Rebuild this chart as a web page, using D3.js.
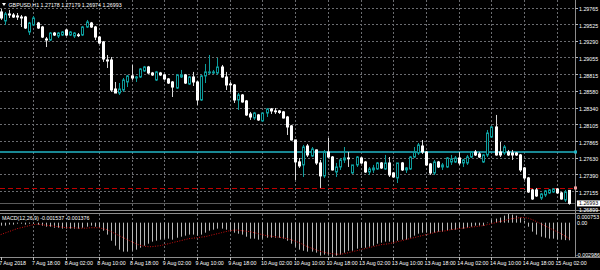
<!DOCTYPE html>
<html>
<head>
<meta charset="utf-8">
<script src="https://cdnjs.cloudflare.com/ajax/libs/d3/7.8.5/d3.min.js"></script>
<style>
  html, body { margin: 0; padding: 0; background: #000; }
  #svg-canvas { width: 600px; height: 270px; }
  text { font-family: "Liberation Sans", Arial, sans-serif; fill: #fff; }
</style>
</head>
<body>
<div id="svg-canvas"></div>
<script>
// GBPUSD H1, 7 Aug 10:00 .. 15 Aug 05:00 (140 bars)
var opens = [
  1.29716, 1.29588, 1.29687, 1.29673, 1.29659, 1.29644, 1.29644, 1.29431, 1.29531, 1.29559,
  1.29502, 1.29331, 1.29317, 1.29416, 1.29374, 1.29388, 1.29459, 1.29388, 1.29374, 1.29390,
  1.29388, 1.29502, 1.29559, 1.29502, 1.29359, 1.29289, 1.29033, 1.29033, 1.28620, 1.28563,
  1.28606, 1.28720, 1.28806, 1.28777, 1.28791, 1.28877, 1.28933, 1.28848, 1.28748, 1.28848,
  1.28820, 1.28763, 1.28720, 1.28634, 1.28791, 1.28820, 1.28691, 1.28791, 1.28720, 1.28464,
  1.28806, 1.28848, 1.28848, 1.28848, 1.28933, 1.28791, 1.28691, 1.28677, 1.28464, 1.28535,
  1.28450, 1.28265, 1.28208, 1.28251, 1.28166, 1.28279, 1.28336, 1.28308, 1.28308, 1.28294,
  1.28222, 1.28095, 1.27895, 1.27583, 1.27540, 1.27809, 1.27667, 1.27753, 1.27568, 1.27384,
  1.27724, 1.27653, 1.27440, 1.27511, 1.27611, 1.27639, 1.27426, 1.27540, 1.27639, 1.27582,
  1.27440, 1.27469, 1.27483, 1.27568, 1.27483, 1.27568, 1.27426, 1.27355, 1.27568, 1.27469,
  1.27483, 1.27653, 1.27710, 1.27809, 1.27724, 1.27554, 1.27426, 1.27582, 1.27511, 1.27511,
  1.27582, 1.27582, 1.27639, 1.27568, 1.27568, 1.27653, 1.27724, 1.27696, 1.27582, 1.27682,
  1.27937, 1.28080, 1.27724, 1.27710, 1.27724, 1.27710, 1.27710, 1.27682, 1.27497, 1.27355,
  1.27184, 1.27184, 1.27070, 1.27113, 1.27142, 1.27156, 1.27198, 1.27142, 1.27042, 1.27178
]
var highs = [
  1.29758, 1.29716, 1.29744, 1.29701, 1.29701, 1.29673, 1.29659, 1.29574, 1.29659, 1.29574,
  1.29517, 1.29359, 1.29431, 1.29431, 1.29431, 1.29445, 1.29474, 1.29445, 1.29431, 1.29416,
  1.29517, 1.29602, 1.29574, 1.29517, 1.29374, 1.29303, 1.29104, 1.29075, 1.28720, 1.28705,
  1.28777, 1.28820, 1.28962, 1.28806, 1.28919, 1.28948, 1.28948, 1.28863, 1.28877, 1.28863,
  1.28834, 1.28777, 1.28734, 1.28834, 1.28891, 1.28834, 1.28806, 1.28863, 1.28734, 1.28820,
  1.28976, 1.29104, 1.28891, 1.29061, 1.28962, 1.28863, 1.28720, 1.28691, 1.28563, 1.28549,
  1.28464, 1.28294, 1.28294, 1.28265, 1.28279, 1.28350, 1.28350, 1.28350, 1.28322, 1.28308,
  1.28237, 1.28109, 1.27900, 1.27639, 1.27824, 1.27838, 1.27795, 1.27760, 1.27611, 1.27753,
  1.27923, 1.27667, 1.27568, 1.27639, 1.27795, 1.27724, 1.27540, 1.27667, 1.27653, 1.27597,
  1.27511, 1.27540, 1.27582, 1.27582, 1.27682, 1.27653, 1.27440, 1.27568, 1.27582, 1.27511,
  1.27667, 1.27795, 1.27852, 1.27895, 1.27738, 1.27568, 1.27611, 1.27597, 1.27568, 1.27653,
  1.27682, 1.27667, 1.27724, 1.27625, 1.27682, 1.27738, 1.27753, 1.27724, 1.27696, 1.28037,
  1.28095, 1.28251, 1.27866, 1.27824, 1.27753, 1.27753, 1.27724, 1.27696, 1.27511, 1.27369,
  1.27198, 1.27212, 1.27142, 1.27184, 1.27198, 1.27212, 1.27212, 1.27156, 1.27184, 1.27179
]
var lows = [
  1.29602, 1.29531, 1.29630, 1.29630, 1.29602, 1.29502, 1.29474, 1.29388, 1.29517, 1.29474,
  1.29345, 1.29217, 1.29303, 1.29374, 1.29345, 1.29374, 1.29374, 1.29374, 1.29345, 1.29359,
  1.29374, 1.29488, 1.29488, 1.29317, 1.29260, 1.29005, 1.28919, 1.28578, 1.28563, 1.28535,
  1.28578, 1.28648, 1.28748, 1.28720, 1.28777, 1.28863, 1.28834, 1.28806, 1.28734, 1.28806,
  1.28748, 1.28691, 1.28506, 1.28620, 1.28777, 1.28691, 1.28677, 1.28663, 1.28393, 1.28450,
  1.28705, 1.28834, 1.28834, 1.28820, 1.28780, 1.28606, 1.28578, 1.28421, 1.28322, 1.28425,
  1.28237, 1.28180, 1.28180, 1.28166, 1.28152, 1.28222, 1.28265, 1.28265, 1.28265, 1.28200,
  1.27966, 1.27885, 1.27326, 1.27497, 1.27369, 1.27653, 1.27653, 1.27540, 1.27212, 1.27355,
  1.27639, 1.27460, 1.27369, 1.27469, 1.27568, 1.27511, 1.27412, 1.27511, 1.27554, 1.27426,
  1.27398, 1.27426, 1.27469, 1.27483, 1.27469, 1.27369, 1.27355, 1.27283, 1.27454, 1.27426,
  1.27469, 1.27639, 1.27682, 1.27696, 1.27526, 1.27398, 1.27398, 1.27497, 1.27469, 1.27497,
  1.27540, 1.27568, 1.27540, 1.27511, 1.27540, 1.27639, 1.27667, 1.27639, 1.27568, 1.27653,
  1.27923, 1.27670, 1.27653, 1.27682, 1.27667, 1.27611, 1.27667, 1.27440, 1.27326, 1.27142,
  1.27042, 1.27085, 1.27042, 1.27085, 1.27127, 1.27142, 1.27127, 1.27045, 1.27014, 1.26974
]
var closes = [
  1.29630, 1.29687, 1.29673, 1.29644, 1.29644, 1.29630, 1.29488, 1.29559, 1.29630, 1.29488,
  1.29359, 1.29317, 1.29416, 1.29388, 1.29416, 1.29431, 1.29388, 1.29431, 1.29416, 1.29386,
  1.29502, 1.29574, 1.29502, 1.29359, 1.29274, 1.29047, 1.29019, 1.28606, 1.28563, 1.28620,
  1.28748, 1.28806, 1.28777, 1.28791, 1.28905, 1.28933, 1.28848, 1.28820, 1.28863, 1.28820,
  1.28763, 1.28705, 1.28648, 1.28820, 1.28820, 1.28705, 1.28791, 1.28720, 1.28464, 1.28806,
  1.28863, 1.28863, 1.28863, 1.28933, 1.28791, 1.28677, 1.28684, 1.28464, 1.28535, 1.28436,
  1.28251, 1.28222, 1.28279, 1.28180, 1.28279, 1.28336, 1.28308, 1.28301, 1.28287, 1.28208,
  1.28080, 1.27895, 1.27583, 1.27526, 1.27795, 1.27682, 1.27767, 1.27568, 1.27384, 1.27724,
  1.27653, 1.27469, 1.27511, 1.27611, 1.27639, 1.27632, 1.27540, 1.27653, 1.27568, 1.27440,
  1.27483, 1.27497, 1.27568, 1.27497, 1.27568, 1.27398, 1.27369, 1.27568, 1.27469, 1.27497,
  1.27653, 1.27724, 1.27824, 1.27724, 1.27540, 1.27426, 1.27582, 1.27511, 1.27540, 1.27639,
  1.27625, 1.27639, 1.27568, 1.27611, 1.27653, 1.27724, 1.27682, 1.27653, 1.27682, 1.27994,
  1.28080, 1.27682, 1.27682, 1.27795, 1.27682, 1.27682, 1.27682, 1.27469, 1.27355, 1.27156,
  1.27056, 1.27099, 1.27127, 1.27170, 1.27184, 1.27198, 1.27142, 1.27056, 1.27156, 1.26993
]

// MACD(12,26,9): main (histogram) and signal
var macdMain = [
  -0.00026, -0.00026, -0.00017, -0.00017, -0.00009, -0.00009, -0.00017, -0.00009, -0.00009, -0.00017,
  -0.00026, -0.00035, -0.00035, -0.00044, -0.00044, -0.00052, -0.00052, -0.00052, -0.00052, -0.00052,
  -0.00044, -0.00035, -0.00026, -0.00035, -0.00044, -0.00070, -0.00104, -0.00157, -0.00200, -0.00235,
  -0.00252, -0.00252, -0.00244, -0.00235, -0.00218, -0.00200, -0.00183, -0.00165, -0.00157, -0.00148,
  -0.00139, -0.00139, -0.00148, -0.00131, -0.00122, -0.00113, -0.00104, -0.00104, -0.00113, -0.00104,
  -0.00087, -0.00070, -0.00061, -0.00052, -0.00052, -0.00061, -0.00070, -0.00087, -0.00096, -0.00104,
  -0.00122, -0.00139, -0.00139, -0.00148, -0.00139, -0.00131, -0.00131, -0.00131, -0.00131, -0.00139,
  -0.00157, -0.00183, -0.00209, -0.00235, -0.00244, -0.00252, -0.00252, -0.00261, -0.00287, -0.00278,
  -0.00278, -0.002986, -0.00287, -0.00278, -0.00261, -0.00244, -0.00244, -0.00226, -0.00218, -0.00218,
  -0.00209, -0.00200, -0.00183, -0.00174, -0.00165, -0.00165, -0.00174, -0.00157, -0.00148, -0.00148,
  -0.00131, -0.00113, -0.00096, -0.00087, -0.00087, -0.00096, -0.00087, -0.00078, -0.00078, -0.00070,
  -0.00061, -0.00061, -0.00052, -0.00052, -0.00044, -0.00035, -0.00026, -0.00026, -0.00026, -0.00004,
  0.00026, 0.00035, 0.00044, 0.00061, 0.000753, 0.00070, 0.00061, 0.00044, 0.00017, -0.00035,
  -0.00078, -0.00104, -0.00122, -0.00131, -0.00139, -0.00139, -0.00144, -0.00148, -0.00152, -0.001537
]
var macdSignal = [
  -0.00104, -0.00091, -0.00078, -0.00065, -0.00052, -0.00044, -0.00035, -0.00026, -0.00017, -0.00013,
  -0.00017, -0.00022, -0.00026, -0.00030, -0.00035, -0.00039, -0.00044, -0.00044, -0.00044, -0.00048,
  -0.00048, -0.00048, -0.00044, -0.00044, -0.00044, -0.00052, -0.00061, -0.00078, -0.00096, -0.00113,
  -0.00131, -0.00148, -0.00165, -0.00183, -0.00196, -0.00204, -0.00209, -0.00209, -0.00204, -0.00200,
  -0.00191, -0.00183, -0.00174, -0.00165, -0.00157, -0.00148, -0.00139, -0.00135, -0.00131, -0.00126,
  -0.00122, -0.00113, -0.00104, -0.00096, -0.00087, -0.00078, -0.00070, -0.00065, -0.00065, -0.00070,
  -0.00074, -0.00078, -0.00087, -0.00096, -0.00104, -0.00113, -0.00117, -0.00122, -0.00126, -0.00131,
  -0.00139, -0.00148, -0.00161, -0.00174, -0.00191, -0.00209, -0.00222, -0.00235, -0.00248, -0.00257,
  -0.00265, -0.00270, -0.00274, -0.00274, -0.00270, -0.00261, -0.00252, -0.00244, -0.00235, -0.00226,
  -0.00218, -0.00209, -0.00200, -0.00191, -0.00187, -0.00183, -0.00174, -0.00165, -0.00157, -0.00148,
  -0.00139, -0.00131, -0.00122, -0.00113, -0.00104, -0.00096, -0.00087, -0.00078, -0.00074, -0.00070,
  -0.00061, -0.00057, -0.00052, -0.00048, -0.00044, -0.00039, -0.00035, -0.00030, -0.00026, -0.00017,
  -0.00009, 0, 0.00009, 0.00017, 0.00026, 0.00035, 0.00039, 0.00044, 0.00044, 0.00039,
  0.00026, 0.00009, -0.00009, -0.00026, -0.00044, -0.00061, -0.00078, -0.00096, -0.00117, -0.001376
]

// axis labels
var priceTicks = [1.29765, 1.29525, 1.29290, 1.29055, 1.28815, 1.28580, 1.28340, 1.28105, 1.27865, 1.27630, 1.27390, 1.27155]
var timeLabels = ["7 Aug 2018", "7 Aug 18:00", "8 Aug 02:00", "8 Aug 10:00", "8 Aug 18:00", "9 Aug 02:00",
  "9 Aug 10:00", "9 Aug 18:00", "10 Aug 02:00", "10 Aug 10:00", "10 Aug 18:00", "13 Aug 02:00",
  "13 Aug 10:00", "13 Aug 18:00", "14 Aug 02:00", "14 Aug 10:00", "14 Aug 18:00", "15 Aug 02:00"]
var timeLabelBars = [0, 8, 16, 24, 32, 40, 48, 56, 64, 72, 80, 88, 96, 104, 112, 120, 128, 136]
var levelLines = [1.27724, 1.27213]   // teal solid, red dashed
var bidPrice = 1.26993
var macdRange = [-0.002986, 0.000753]
var header = "GBPUSD,H1  1.27178 1.27179 1.26974 1.26993"
var macdHeader = "MACD(12,26,9) -0.001537 -0.001376"

// initialize canvas
var svg = d3.select('#svg-canvas')
  .append('svg')
  .attr("width", 600)
  .attr("height", 270)

svg.append("rect").attr("width", 600).attr("height", 270).attr("fill", "#000")

var axisX = 575.5
var mainBottom = 210
var macdTop = 214
var macdBottom = 257

var bars = d3.range(opens.length).map(function (i) {
  return { i: i, o: opens[i], h: highs[i], l: lows[i], c: closes[i] }
})

var xscale = d3.scaleLinear()
  .domain([0, bars.length - 1])
  .range([0.7, 569.2])

var yscale = d3.scaleLinear()
  .domain([1.26899, 1.29886])
  .range([mainBottom, 0])

var mscale = d3.scaleLinear()
  .domain(macdRange)
  .range([macdBottom, macdTop])

function px(v) { return Math.round(v) + 0.5 }

// grid
var grid = svg.append("g")
  .attr("stroke", "#6a6c70")
  .attr("stroke-width", 1)
  .attr("stroke-dasharray", "2,2")

grid.selectAll("line.h")
  .data(priceTicks)
  .enter()
  .append("line")
  .attr("x1", 0).attr("x2", axisX)
  .attr("y1", function (d) { return px(yscale(d)) - 1 })
  .attr("y2", function (d) { return px(yscale(d)) - 1 })

grid.selectAll("line.v")
  .data(timeLabelBars.slice(1))
  .enter()
  .append("line")
  .attr("x1", function (d) { return px(xscale(d)) })
  .attr("x2", function (d) { return px(xscale(d)) })
  .attr("y1", 0).attr("y2", mainBottom)

grid.selectAll("line.vm")
  .data(timeLabelBars.slice(1))
  .enter()
  .append("line")
  .attr("x1", function (d) { return px(xscale(d)) })
  .attr("x2", function (d) { return px(xscale(d)) })
  .attr("y1", macdTop).attr("y2", macdBottom)

// level lines
svg.append("line")
  .attr("x1", 0).attr("x2", axisX)
  .attr("y1", yscale(levelLines[0])).attr("y2", yscale(levelLines[0]))
  .attr("stroke", "#22b6c6").attr("stroke-width", 1.5)
svg.append("line")
  .attr("x1", 0).attr("x2", axisX)
  .attr("y1", px(yscale(levelLines[1]))).attr("y2", px(yscale(levelLines[1])))
  .attr("stroke", "#c00000").attr("stroke-width", 1)
  .attr("stroke-dasharray", "5,3")

// bid line
svg.append("line")
  .attr("x1", 0).attr("x2", axisX)
  .attr("y1", px(yscale(bidPrice))).attr("y2", px(yscale(bidPrice)))
  .attr("stroke", "#5a5a5a").attr("stroke-width", 1)

// candles
var candles = svg.append("g")
  .selectAll("g")
  .data(bars)
  .enter()
  .append("g")

candles.append("line")
  .attr("x1", function (d) { return px(xscale(d.i)) })
  .attr("x2", function (d) { return px(xscale(d.i)) })
  .attr("y1", function (d) { return yscale(d.h) })
  .attr("y2", function (d) { return yscale(d.l) })
  .attr("stroke", function (d) { return d.c > d.o ? "#0d9b9b" : "#d8d8d8" })

candles.append("rect")
  .attr("x", function (d) { return Math.round(xscale(d.i)) - 0.5 })
  .attr("width", 2)
  .attr("y", function (d) { return yscale(Math.max(d.o, d.c)) })
  .attr("height", function (d) { return Math.max(0.8, Math.abs(yscale(d.o) - yscale(d.c))) })
  .attr("fill", function (d) { return d.c > d.o ? "#000" : "#fff" })
  .attr("stroke", function (d) { return d.c > d.o ? "#0d9b9b" : "#fff" })
  .attr("stroke-width", 1)

// window separators and axes
svg.append("line").attr("x1", 0).attr("x2", 600).attr("y1", 210.5).attr("y2", 210.5).attr("stroke", "#8c8c8c")
svg.append("line").attr("x1", 0).attr("x2", 600).attr("y1", 213.5).attr("y2", 213.5).attr("stroke", "#8c8c8c")
svg.append("line").attr("x1", 0).attr("x2", 600).attr("y1", macdBottom + 0.5).attr("y2", macdBottom + 0.5).attr("stroke", "#8c8c8c")
svg.append("line").attr("x1", axisX).attr("x2", axisX).attr("y1", 0).attr("y2", macdBottom).attr("stroke", "#8c8c8c")

// MACD histogram
svg.append("g")
  .selectAll("line")
  .data(macdMain)
  .enter()
  .append("line")
  .attr("x1", function (d, i) { return px(xscale(i)) })
  .attr("x2", function (d, i) { return px(xscale(i)) })
  .attr("y1", mscale(0))
  .attr("y2", function (d) { return mscale(d) })
  .attr("stroke", "#b8b8b8")

// MACD signal
svg.append("path")
  .datum(macdSignal)
  .attr("fill", "none")
  .attr("stroke", "#d01010")
  .attr("stroke-width", 1)
  .attr("stroke-dasharray", "1,1.5")
  .attr("d", d3.line()
    .x(function (d, i) { return xscale(i) })
    .y(function (d) { return mscale(d) }))

// price axis labels
var fs = "5.3px"
svg.selectAll("text.price")
  .data(priceTicks)
  .enter()
  .append("text")
  .attr("x", 579)
  .attr("y", function (d) { return yscale(d) + 2.5 })
  .attr("font-size", fs)
  .text(function (d) { return d.toFixed(5) })

svg.selectAll("line.ptick")
  .data(priceTicks)
  .enter()
  .append("line")
  .attr("x1", axisX).attr("x2", axisX + 2.5)
  .attr("y1", function (d) { return px(yscale(d)) - 1 })
  .attr("y2", function (d) { return px(yscale(d)) - 1 })
  .attr("stroke", "#bbb")

// level line markers on the axis
svg.append("rect").attr("x", axisX - 1.5).attr("y", yscale(levelLines[0]) - 1.5).attr("width", 3).attr("height", 3).attr("fill", "#22b6c6")
svg.append("rect").attr("x", axisX - 1.5).attr("y", yscale(levelLines[1]) - 1.5).attr("width", 3).attr("height", 3).attr("fill", "#f0a0a0")

// bid box
svg.append("rect")
  .attr("x", 577).attr("y", yscale(bidPrice) - 3)
  .attr("width", 23).attr("height", 6)
  .attr("fill", "#fff")
svg.append("text")
  .attr("x", 579).attr("y", yscale(bidPrice) + 2)
  .attr("font-size", fs)
  .style("fill", "#000")
  .text(bidPrice.toFixed(5))
svg.append("text")
  .attr("x", 579).attr("y", 211.5)
  .attr("font-size", fs)
  .text(yscale.domain()[0].toFixed(5))

// MACD axis labels
svg.append("text").attr("x", 577).attr("y", mscale(macdRange[1]) + 4.5).attr("font-size", fs).text(macdRange[1].toFixed(6))
svg.append("text").attr("x", 577).attr("y", mscale(0) + 2).attr("font-size", fs).text("0.00")
svg.append("text").attr("x", 576).attr("y", mscale(macdRange[0]) - 0.5).attr("font-size", fs).text(macdRange[0].toFixed(6))

// time axis
svg.selectAll("text.time")
  .data(timeLabels)
  .enter()
  .append("text")
  .attr("x", function (d, i) { return xscale(timeLabelBars[i]) - 1.5 })
  .attr("y", 264.5)
  .attr("font-size", fs)
  .text(function (d) { return d })

svg.selectAll("line.ttick")
  .data(timeLabelBars)
  .enter()
  .append("line")
  .attr("x1", function (d) { return px(xscale(d)) })
  .attr("x2", function (d) { return px(xscale(d)) })
  .attr("y1", macdBottom).attr("y2", macdBottom + 3)
  .attr("stroke", "#bbb")

// headers
svg.append("path")
  .attr("d", "M2,3 L6,3 L4,6 Z")
  .attr("fill", "#fff")
svg.append("text").attr("x", 8.5).attr("y", 6.5).attr("font-size", fs).text(header)
svg.append("text").attr("x", 2).attr("y", 220).attr("font-size", fs).text(macdHeader)
</script>
</body>
</html>
